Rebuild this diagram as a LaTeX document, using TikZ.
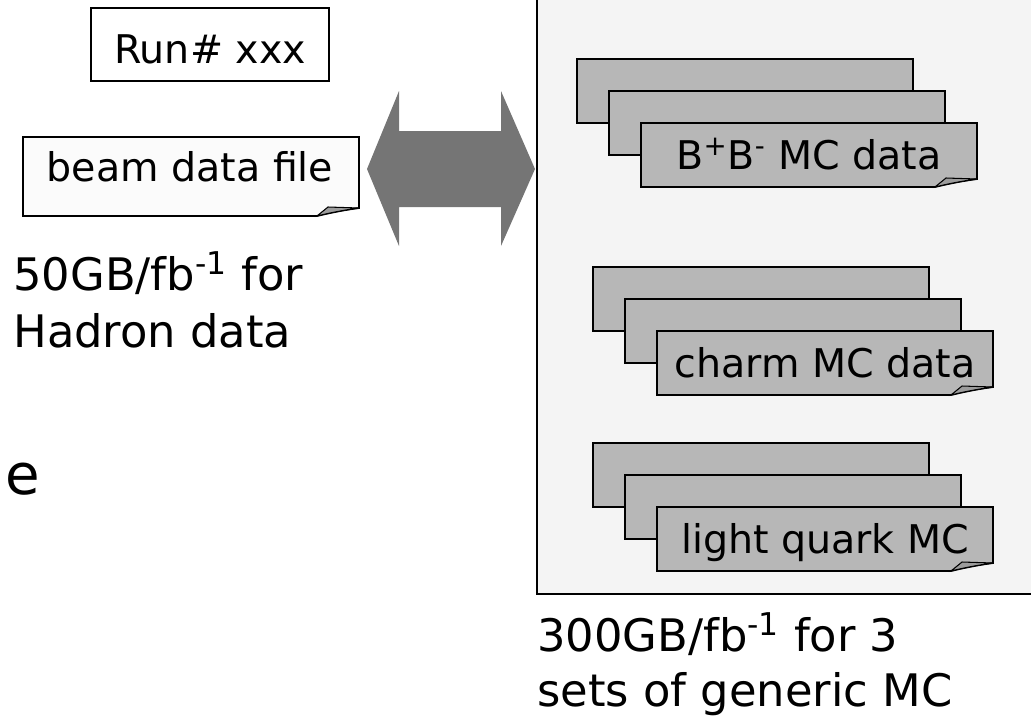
\documentclass[tikz,border=0pt]{standalone}
\usepackage{fontspec}
\setmainfont{DejaVu Sans}
\usetikzlibrary{positioning}

\definecolor{panelgray}{HTML}{F4F4F4}
\definecolor{sheetgray}{HTML}{B7B7B7}
\definecolor{arrowgray}{HTML}{757575}
\definecolor{flapgray}{HTML}{9C9C9C}
\definecolor{paperwhite}{HTML}{FBFBFB}

\tikzset{
  outline/.style={draw=black, line width=1pt},
  boxfont/.style={font=\fontsize{22.5}{27}\selectfont},
  labelfont/.style={font=\fontsize{25.5}{32}\selectfont, inner sep=0pt, anchor=base west},
}

% sheet with a turned-up corner: x0, y0, x1, y1, fill
\newcommand{\foldsheet}[5]{
  \draw[outline, fill=#5]
    (#1,#2) -- (#3,#2) -- (#3,#4-8)
    .. controls (#3-15,#4-6) and (#3-30,#4-3) .. (#3-42,#4)
    -- (#1,#4) -- cycle;
  \draw[black, line width=0.6pt, fill=flapgray]
    (#3-42,#4) -- (#3-31,#4-9) -- (#3,#4-8)
    .. controls (#3-15,#4-6) and (#3-30,#4-3) .. (#3-42,#4) -- cycle;
}

\begin{document}
\begin{tikzpicture}[x=0.02cm, y=-0.02cm]

    \clip (0,0) rectangle (1031,718);

    % storage panel on the right
    \draw[outline, line width=1.3pt, fill=panelgray] (537,-10) rectangle (1045,594);

    % run number and beam data file
    \node[outline, boxfont, inner sep=0pt, text height=1.1cm, text depth=0.36cm,
      minimum width=4.76cm, anchor=base] (run) at (210,63) {Run\# xxx};

    \foldsheet{23}{137}{359}{216}{paperwhite}
    \node[boxfont, anchor=base] (beam) at (190,181) {beam data file};

    % two-way arrow
    \fill[arrowgray]
      (367,169) coordinate (tipL) -- (399,91) -- (399,131) -- (501,131) -- (501,91)
      -- (535,169) coordinate (tipR) -- (501,246) -- (501,207) -- (399,207)
      -- (399,246) -- cycle;

    % stacks of MC sheets
    \foreach \sx/\sy/\txt/\nm in
    {577/59/{B\textsuperscript{+}B\textsuperscript{-} MC data}/bbmc,
     593/267/{charm MC data}/charmmc,
     593/443/{light quark MC}/lightmc}
    {
      \foreach \k in {0,1}
      {
        \draw[outline, fill=sheetgray] (\sx+32*\k,\sy+32*\k) rectangle ++(336,64);
      }
      \foldsheet{\sx+64}{\sy+64}{\sx+400}{\sy+128}{sheetgray}
      \node[boxfont, anchor=base] (\nm) at (\sx+232,\sy+110) {\txt};
    }

    % size notes
    \node[labelfont] (hadA) at (13,290) {50GB/fb\textsuperscript{-1} for};
    \node[labelfont] (hadB) at (13,347) {Hadron data};
    \node[labelfont] (mcA) at (537,651) {300GB/fb\textsuperscript{-1} for 3};
    \node[labelfont] (mcB) at (537,706) {sets of generic MC};

    \node[font=\fontsize{32}{38}\selectfont, inner sep=0pt, anchor=base west] (cut) at (5,494) {e};

  \end{tikzpicture}
\end{document}
